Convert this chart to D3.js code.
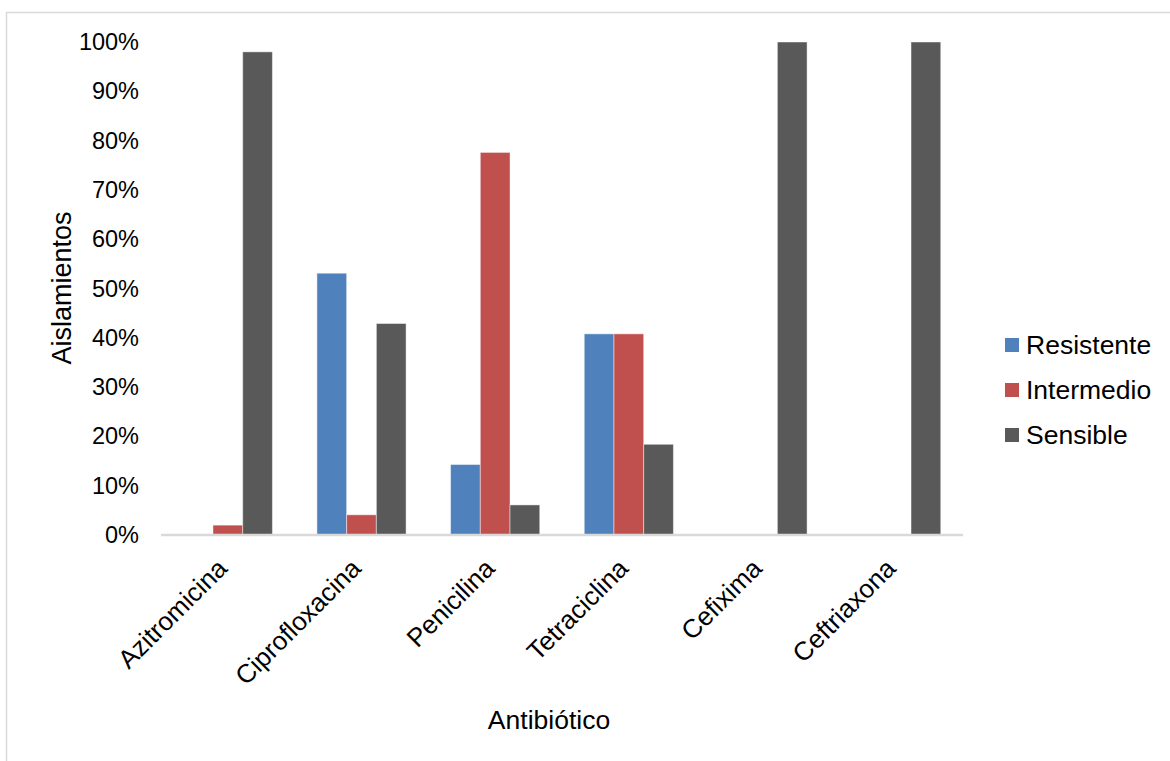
<!DOCTYPE html>
<html>
<head>
<meta charset="utf-8">
<script src="https://cdn.jsdelivr.net/npm/d3@7"></script>
<style>
  html, body { margin: 0; padding: 0; background: #fff; }
  svg { display: block; font-family: "Liberation Sans", Arial, sans-serif; }
</style>
</head>
<body>
<svg id="chart" width="1170" height="761"></svg>
<script>
// Antibiotic susceptibility of isolates (share of isolates, %)
const antibiotics = ["Azitromicina", "Ciprofloxacina", "Penicilina", "Tetraciclina", "Cefixima", "Ceftriaxona"];
const seriesNames = ["Resistente", "Intermedio", "Sensible"];
const resistente = [0, 53.1, 14.3, 40.8, 0, 0];
const intermedio = [2.0, 4.1, 77.6, 40.8, 0, 0];
const sensible   = [98.0, 42.9, 6.1, 18.4, 100, 100];
const yTicks = [0, 10, 20, 30, 40, 50, 60, 70, 80, 90, 100];
const colors = ["#4F81BD", "#C0504D", "#595959"];

const seriesValues = [resistente, intermedio, sensible];
const rows = antibiotics.map((a, i) => ({
  name: a,
  values: seriesNames.map((s, k) => ({ key: s, value: seriesValues[k][i] }))
}));

const svg = d3.select("#chart");

// outer chart frame
svg.append("rect")
  .attr("x", 6.5).attr("y", 12.5)
  .attr("width", 1200).attr("height", 800)
  .attr("fill", "none").attr("stroke", "#d9d9d9").attr("stroke-width", 1.5);

const plot = { left: 161, right: 963, top: 42, bottom: 535 };

const x = d3.scaleBand()
  .domain(antibiotics)
  .range([plot.left, plot.right])
  .paddingInner(0.333)
  .paddingOuter(0.1665);

const xs = d3.scaleBand()
  .domain(seriesNames)
  .range([0, x.bandwidth()]);

const y = d3.scaleLinear().domain([0, 100]).range([plot.bottom, plot.top]);

// y axis labels (no axis line)
const yAxis = d3.axisLeft(y)
  .tickValues(yTicks)
  .tickFormat(d => d + "%")
  .tickSize(0)
  .tickPadding(0);

const yg = svg.append("g")
  .attr("transform", `translate(${plot.left - 22},0)`)
  .call(yAxis);
yg.select(".domain").remove();
yg.selectAll("text")
  .attr("font-size", 23.5)
  .attr("font-family", "Liberation Sans, Arial, sans-serif")
  .attr("fill", "#000");

// bars
const groups = svg.append("g").selectAll("g")
  .data(rows)
  .join("g")
  .attr("transform", d => `translate(${x(d.name)},0)`);

groups.selectAll("rect")
  .data(d => d.values)
  .join("rect")
  .attr("x", d => xs(d.key))
  .attr("y", d => y(d.value))
  .attr("width", xs.bandwidth())
  .attr("height", d => y(0) - y(d.value))
  .attr("fill", (d, i) => colors[i])
  .attr("stroke", "rgba(255,255,255,0.45)")
  .attr("stroke-width", 1);

// x axis line and rotated category labels
const xAxis = d3.axisBottom(x).tickSize(0).tickPadding(0);
const xg = svg.append("g")
  .attr("transform", `translate(0,${plot.bottom})`)
  .call(xAxis);
xg.select(".domain")
  .attr("stroke", "#d9d9d9")
  .attr("stroke-width", 2.5)
  .attr("d", `M${plot.left},0H${plot.right}`);
xg.selectAll(".tick text")
  .attr("font-size", 26)
  .attr("font-family", "Liberation Sans, Arial, sans-serif")
  .attr("fill", "#000")
  .attr("text-anchor", "end")
  .attr("dy", null)
  .attr("y", 0)
  .attr("transform", "translate(1,35) rotate(-45)");

// axis titles
svg.append("text")
  .attr("x", 549).attr("y", 729)
  .attr("text-anchor", "middle")
  .attr("font-size", 26.5)
  .text("Antibiótico");

svg.append("text")
  .attr("transform", "translate(71,288) rotate(-90)")
  .attr("text-anchor", "middle")
  .attr("font-size", 27)
  .text("Aislamientos");

// legend
const legend = svg.append("g").attr("transform", "translate(1005,345)");
const li = legend.selectAll("g")
  .data(seriesNames)
  .join("g")
  .attr("transform", (d, i) => `translate(0,${i * 45})`);
li.append("rect")
  .attr("x", 0).attr("y", -7)
  .attr("width", 14).attr("height", 14)
  .attr("fill", (d, i) => colors[i]);
li.append("text")
  .attr("x", 21).attr("y", 0)
  .attr("dy", "0.35em")
  .attr("font-size", 26.5)
  .text(d => d);
</script>
</body>
</html>
